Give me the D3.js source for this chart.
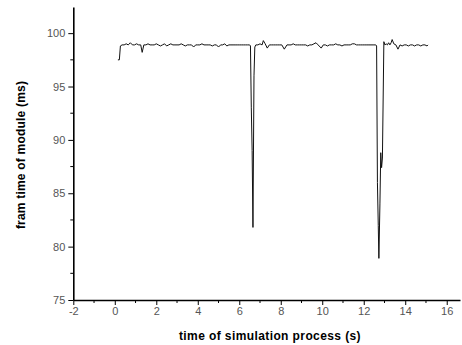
<!DOCTYPE html>
<html><head><meta charset="utf-8">
<script src="https://cdn.jsdelivr.net/npm/d3@7"></script>
<style>body{margin:0;background:#fff}svg{display:block}</style>
</head><body>
<svg id="c" width="462" height="345"></svg>
<script>
const xTicks = [-2,0,2,4,6,8,10,12,14,16];
const yTicks = [75,80,85,90,95,100];
const timeS = [0.15,0.22,0.27,0.35,0.45,0.55,0.65,0.75,0.85,0.95,1.05,1.15,1.25,1.32,1.4,1.5,1.6,1.7,1.8,1.9,2.0,2.1,2.2,2.3,2.4,2.5,2.6,2.7,2.8,2.9,3.0,3.1,3.2,3.3,3.4,3.5,3.6,3.7,3.8,3.9,4.0,4.1,4.2,4.3,4.4,4.5,4.6,4.7,4.8,4.9,5.0,5.1,5.2,5.3,5.4,5.5,5.6,5.7,5.8,5.9,6.0,6.1,6.2,6.3,6.4,6.5,6.54,6.58,6.62,6.66,6.71,6.75,6.8,6.9,7.0,7.1,7.16,7.25,7.35,7.45,7.55,7.65,7.75,7.85,7.95,8.05,8.17,8.3,8.4,8.5,8.6,8.7,8.8,8.9,9.0,9.1,9.2,9.3,9.4,9.5,9.6,9.7,9.8,9.95,10.05,10.15,10.25,10.35,10.45,10.55,10.65,10.75,10.85,10.95,11.05,11.15,11.25,11.35,11.45,11.55,11.65,11.75,11.85,11.95,12.05,12.15,12.25,12.35,12.45,12.58,12.62,12.66,12.7,12.73,12.78,12.82,12.86,12.9,12.97,13.02,13.08,13.14,13.2,13.26,13.32,13.37,13.45,13.55,13.65,13.75,13.85,13.95,14.05,14.15,14.25,14.35,14.45,14.55,14.65,14.75,14.85,14.95,15.05,15.1];
const frameMs = [97.5,97.5,98.8,98.9,98.9,99.0,98.9,99.1,98.9,98.9,99.0,98.9,98.9,98.2,98.9,98.9,99.0,98.9,98.9,98.9,99.0,98.9,98.8,98.9,99.0,98.8,98.9,99.0,98.9,98.9,98.9,98.9,99.0,98.9,98.8,98.9,98.9,98.9,98.7,98.9,98.9,98.9,99.0,98.9,98.9,98.9,98.9,98.8,98.9,98.9,98.7,98.9,98.9,99.0,98.8,98.9,98.9,98.9,98.9,98.9,98.9,98.9,98.9,98.9,98.9,98.9,98.8,93.0,89.0,81.8,96.0,98.7,98.9,98.9,99.0,98.9,99.3,99.0,98.6,98.9,98.9,98.9,98.9,98.9,98.9,98.9,98.5,98.9,98.9,98.9,99.0,98.9,98.9,98.9,98.9,98.9,98.9,98.8,98.9,98.9,99.0,99.1,98.9,98.6,98.9,98.9,98.8,98.9,98.9,98.9,99.0,98.9,98.9,98.8,98.9,98.9,98.9,98.9,99.0,99.0,98.9,98.9,98.9,98.9,98.9,98.9,98.9,98.9,98.9,98.9,98.8,86.0,82.0,78.9,84.0,88.8,87.4,88.3,99.2,98.9,99.0,98.9,99.1,98.9,99.1,99.4,99.0,98.9,98.5,98.9,98.8,98.9,98.9,98.8,98.9,98.9,98.8,98.9,98.9,98.8,98.9,98.9,98.8,98.9,98.9];

const svg = d3.select("#c");
const x = d3.scaleLinear().domain([-2, 16.64]).range([73.3, 460]);
const y = d3.scaleLinear().domain([75, 102.45]).range([300, 7]);
const font = "'Liberation Sans', Arial, sans-serif";

const xMinor = d3.range(-1, 17, 2);
const yMinor = [77.5,82.5,87.5,92.5,97.5,102.5].filter(v => v <= 102.45);

const gx = svg.append("g").attr("transform","translate(0,300)")
  .call(d3.axisBottom(x).tickValues(xTicks).tickFormat(d => String(d)).tickSizeInner(5).tickSizeOuter(0).tickPadding(2));
gx.selectAll(".minor").data(xMinor).enter().append("line")
  .attr("x1", d=>x(d)).attr("x2", d=>x(d)).attr("y1",0).attr("y2",3).attr("stroke","#000");

const gy = svg.append("g").attr("transform","translate(73.3,0)")
  .call(d3.axisLeft(y).tickValues(yTicks).tickFormat(d => String(d)).tickSizeInner(5).tickSizeOuter(0).tickPadding(3));
gy.selectAll(".minor").data(yMinor).enter().append("line")
  .attr("y1", d=>y(d)).attr("y2", d=>y(d)).attr("x1",0).attr("x2",-3).attr("stroke","#000");

[gx, gy].forEach(g => {
  g.select(".domain").attr("stroke","#000").attr("stroke-width",1.6);
  g.selectAll(".tick line").attr("stroke","#000").attr("stroke-width",1);
  g.selectAll(".tick text").attr("fill","#555").style("font-family",font).style("font-size","11px");
});

const pts = timeS.map((t,i)=>[t, frameMs[i]]);
svg.append("path").datum(pts)
  .attr("fill","none").attr("stroke","#111").attr("stroke-width",1)
  .attr("d", d3.line().x(d=>x(d[0])).y(d=>y(d[1])));

svg.append("text").attr("x", 270).attr("y", 340).attr("text-anchor","middle")
  .style("font-family",font).style("font-size","12px").style("font-weight","bold").style("letter-spacing","0.4px")
  .text("time of simulation process (s)");
svg.append("text").attr("transform","translate(25,155) rotate(-90)").attr("text-anchor","middle")
  .style("font-family",font).style("font-size","12px").style("font-weight","bold").style("letter-spacing","0.2px")
  .text("fram time of module (ms)");
</script>
</body></html>
